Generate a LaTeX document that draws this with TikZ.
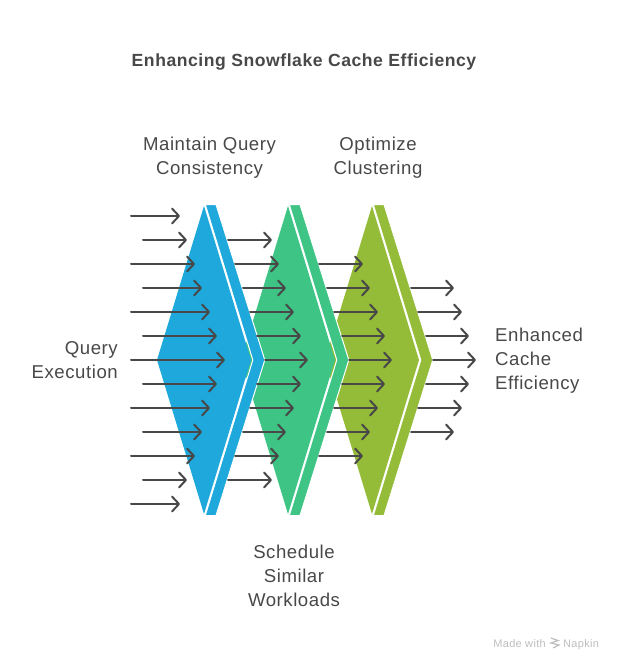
\documentclass[tikz,border=0pt]{standalone}
\usepackage{fontspec}
\setmainfont[LetterSpace=3]{Liberation Sans}
\usepackage{tikz}
\usetikzlibrary{arrows.meta}

\definecolor{inkgrey}{HTML}{484848}
\definecolor{footgrey}{HTML}{BDBDBD}
\definecolor{stageblue}{HTML}{1EA8DB}
\definecolor{stagegreen}{HTML}{3EC484}
\definecolor{stageolive}{HTML}{94BC38}

\tikzset{
  flow/.style = {draw = inkgrey, line width = 2pt, line cap = round,
    -{Straight Barb[length = 7pt, width = 15pt, line width = 2pt, round]}},
  stagelabel/.style = {text = inkgrey, font = \fontsize{18.6}{24}\selectfont, inner sep = 0pt, align = center},
  footlabel/.style = {text = footgrey, font = \fontsize{11}{13}\selectfont, inner sep = 0pt},
  bandedge/.style = {draw = white, line width = 1pt}
}

\begin{document}
\begin{tikzpicture}[x = 1pt, y = -1pt]
\useasboundingbox (0,0) rectangle (624,670);

\node[stagelabel, font = \fontsize{17.6}{24}\selectfont\bfseries] (title) at (304,61.5) {Enhancing Snowflake Cache Efficiency};
\node[stagelabel] (consistency) at (209.5,157.5) {Maintain Query\\Consistency};
\node[stagelabel] (clustering) at (378,157.5) {Optimize\\Clustering};
\node[stagelabel] (workloads) at (294,575.5) {Schedule\\Similar\\Workloads};
\node[stagelabel, align = right, anchor = east] (query) at (118,360.5) {Query\\Execution};
\node[stagelabel, align = left, anchor = west] (cache) at (495,361) {Enhanced\\Cache\\Efficiency};

\foreach \dx/\col in {168/stageolive, 84/stagegreen, 0/stageblue}{
  \fill[\col] (204+\dx,206) -- (251+\dx,360) -- (204+\dx,514) -- (157+\dx,360) -- cycle;
  \filldraw[bandedge, fill = \col] (205.3+\dx,204.5) -- (216+\dx,204.5) -- (264.8+\dx,360) -- (216+\dx,515.5) -- (205.3+\dx,515.5) -- (252.8+\dx,360) -- cycle;
}

% arrows into the blue stage
\foreach \y/\xa/\xb in {216/131/180, 240/143/187, 264/131/195, 288/143/202, 312/131/210, 336/143/217, 360/131/225, 384/143/217, 408/131/210, 432/143/202, 456/131/195, 480/143/187, 504/131/180}{
  \coordinate (blue\y a) at (\xa,\y);
  \coordinate (blue\y b) at (\xb,\y);
  \draw[flow] (blue\y a) -- (blue\y b);
}
% arrows into the green stage
\foreach \y/\xa/\xb in {240/228/272, 264/235/279, 288/243/286, 312/250/294, 336/257/301, 360/265/308, 384/257/301, 408/250/294, 432/243/286, 456/235/279, 480/228/272}{
  \coordinate (green\y a) at (\xa,\y);
  \coordinate (green\y b) at (\xb,\y);
  \draw[flow] (green\y a) -- (green\y b);
}
% arrows into the olive stage
\foreach \y/\xa/\xb in {264/319/363, 288/327/370, 312/334/378, 336/342/385, 360/349/392, 384/342/385, 408/334/378, 432/327/370, 456/319/363}{
  \coordinate (olive\y a) at (\xa,\y);
  \coordinate (olive\y b) at (\xb,\y);
  \draw[flow] (olive\y a) -- (olive\y b);
}
% arrows going out
\foreach \y/\xa/\xb in {288/411/454, 312/418/462, 336/426/469, 360/433/476, 384/426/469, 408/418/462, 432/411/454}{
  \coordinate (out\y a) at (\xa,\y);
  \coordinate (out\y b) at (\xb,\y);
  \draw[flow] (out\y a) -- (out\y b);
}

\node[footlabel, anchor = base east] (made) at (546,647) {Made with};
\node[footlabel, anchor = base west] (napkin) at (563,647) {Napkin};
\draw[footgrey, line width = 1.2pt] (551,638) -- (558,640.5) -- (551,643) -- (559,645) -- (553,648);

\end{tikzpicture}
\end{document}
